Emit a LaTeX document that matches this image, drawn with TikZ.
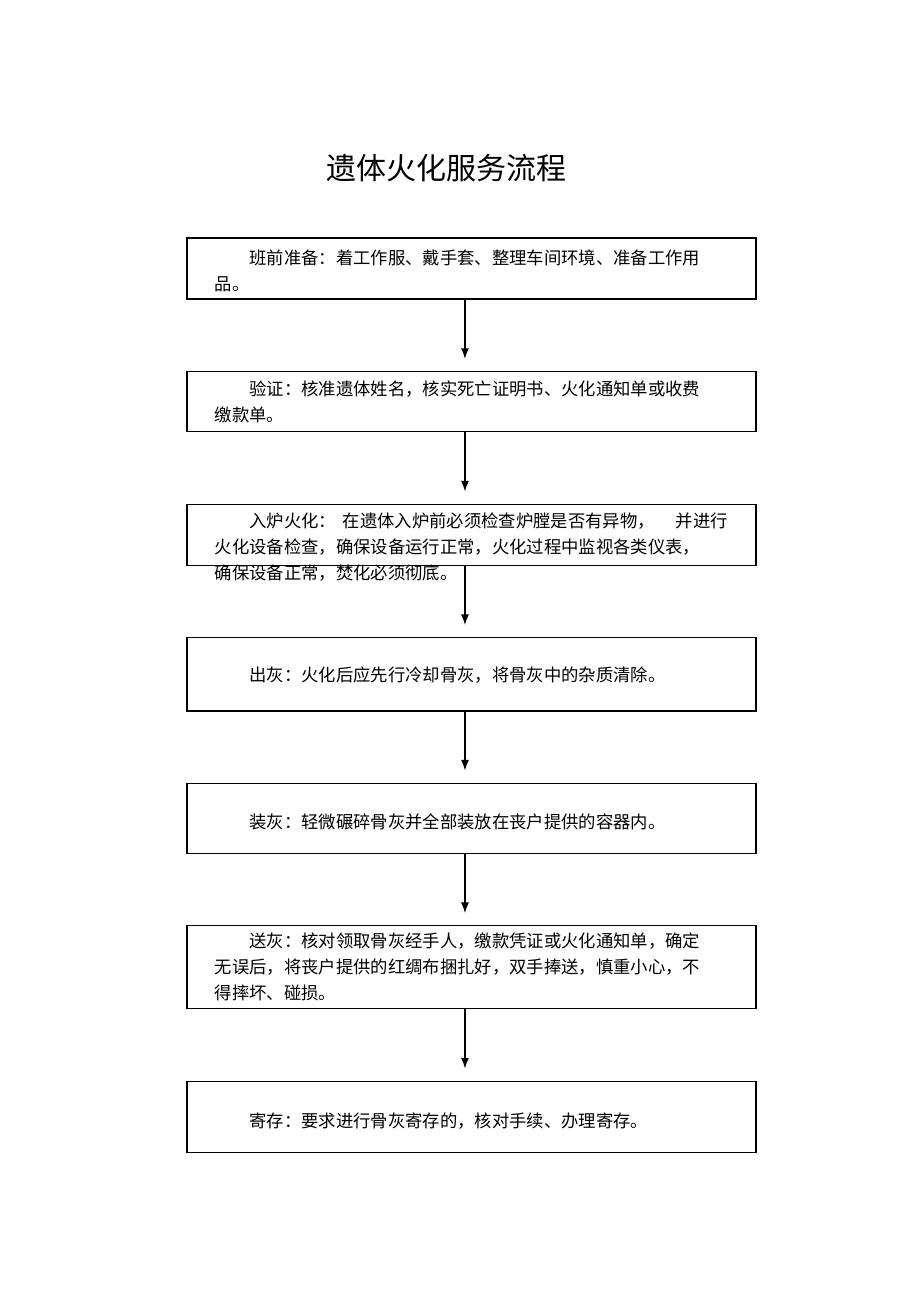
\documentclass[tikz,border=0pt]{standalone}
\usepackage{fontspec}
\setmainfont{Liberation Serif}
\newfontfamily\cjk{Noto Sans CJK SC}
\usepackage{tikz}
\usetikzlibrary{arrows.meta, positioning}

\begin{document}
\begin{tikzpicture}[
  x=0.75pt, y=-0.75pt,
  stepbox/.style = {rectangle, draw=black, line width=0.8pt, minimum width=569*0.75pt, inner sep=0pt},
  txt/.style = {inner sep=0pt, text width=540*0.75pt, align=left, font=\cjk\fontsize{13pt}{19.5pt}\selectfont},
  title/.style = {inner sep=0pt, font=\cjk\fontsize{22.5pt}{27pt}\selectfont},
  arrow/.style = {-{Latex[width=6pt,length=8pt]}, line width=1.1pt, shorten >=9pt},
  node distance=53.6pt
]
\useasboundingbox (0,0) rectangle (920,1303);

\node[title] (head) at (446,168) {遗体火化服务流程};

\node[stepbox, minimum height=61*0.75pt] (s1) at (471.5,268.5) {};
\node[stepbox, minimum height=60*0.75pt, below=of s1] (s2) {};
\node[stepbox, minimum height=61*0.75pt, below=of s2] (s3) {};
\node[stepbox, minimum height=73*0.75pt, below=of s3] (s4) {};
\node[stepbox, minimum height=70*0.75pt, below=of s4] (s5) {};
\node[stepbox, minimum height=83*0.75pt, below=of s5] (s6) {};
\node[stepbox, minimum height=71*0.75pt, below=of s6] (s7) {};
\draw[line width=1.6pt] (s4.south west) -- (s4.south east);

\node[txt, anchor=west] (t1) at ([xshift=21pt,yshift=-1.5pt]s1.west)
  {\hspace*{2em}班前准备：着工作服、戴手套、整理车间环境、准备工作用\\品。};
\node[txt, anchor=west] (t2) at ([xshift=21pt]s2.west)
  {\hspace*{2em}验证：核准遗体姓名，核实死亡证明书、火化通知单或收费\\缴款单。};
\node[txt, anchor=west] (t3) at ([xshift=21pt,yshift=-9.5pt]s3.west)
  {\hspace*{2em}入炉火化：\hspace{0.4em}在遗体入炉前必须检查炉膛是否有异物，\hspace{1.2em}并进行\\火化设备检查，确保设备运行正常，火化过程中监视各类仪表，\\确保设备正常，焚化必须彻底。};
\node[txt, anchor=west] (t4) at ([xshift=21pt,yshift=-1pt]s4.west)
  {\hspace*{2em}出灰：火化后应先行冷却骨灰，将骨灰中的杂质清除。};
\node[txt, anchor=west] (t5) at ([xshift=21pt,yshift=-3pt]s5.west)
  {\hspace*{2em}装灰：轻微碾碎骨灰并全部装放在丧户提供的容器内。};
\node[txt, anchor=west] (t6) at ([xshift=21pt]s6.west)
  {\hspace*{2em}送灰：核对领取骨灰经手人，缴款凭证或火化通知单，确定\\无误后，将丧户提供的红绸布捆扎好，双手捧送，慎重小心，不\\得摔坏、碰损。};
\node[txt, anchor=west] (t7) at ([xshift=21pt,yshift=-3pt]s7.west)
  {\hspace*{2em}寄存：要求进行骨灰寄存的，核对手续、办理寄存。};

\foreach \a/\b in {s1/s2, s2/s3, s3/s4, s4/s5, s5/s6, s6/s7}
  \draw[arrow] ([xshift=-4.9pt]\a.south) -- ([xshift=-4.9pt]\b.north);

\end{tikzpicture}
\end{document}
